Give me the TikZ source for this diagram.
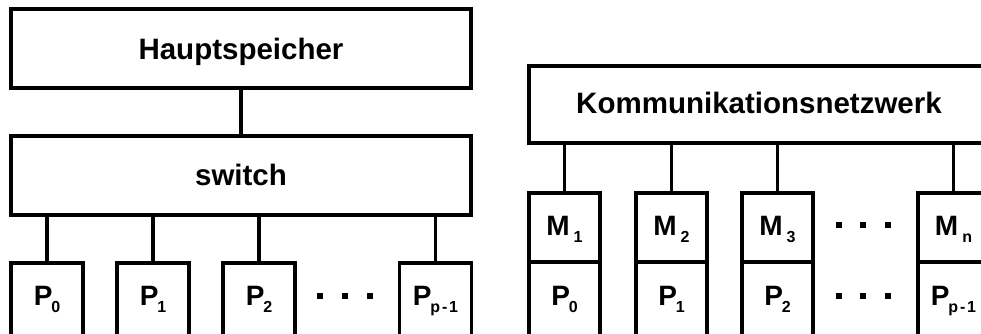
\documentclass[tikz,border=0pt]{standalone}
\usepackage{fontspec}
\setmainfont{Liberation Sans}
\newcommand{\lblsub}[2]{#1\kern-1.2pt\raisebox{-7.2pt}{\fontsize{16}{16}\selectfont #2}}
\newcommand{\lblsubM}[2]{#1\kern4pt\raisebox{-7.2pt}{\fontsize{16}{16}\selectfont #2}}
\newcommand{\pmone}{p\kern1.8pt-\kern1.8pt1}
\begin{document}
\begin{tikzpicture}[x=1pt,y=-1pt,
  box/.style={draw, line width=3.2pt, inner sep=0pt, outer sep=0pt},
  big/.style={anchor=base, inner sep=0pt, font=\fontsize{29.5}{30}\selectfont\bfseries},
  small/.style={anchor=base, inner sep=0pt, font=\fontsize{28}{28}\selectfont\bfseries},
  conn/.style={line width=3.2pt},
  dotsq/.style={fill=black, inner sep=0pt, minimum size=6.5pt}]
\useasboundingbox (0,0) rectangle (981,333);
\clip (0,0) rectangle (981,333);
% ---------- left ----------
\node[box, minimum width=460pt, minimum height=79pt] (hs) at (241,48.5) {};
\node[big] (hst) at (241,59.3) {Hauptspeicher};
\node[box, minimum width=460pt, minimum height=79pt] (sw) at (241,175.5) {};
\node[big] (swt) at (241,185) {switch};
\draw[conn] (hs.south) -- (sw.north);
\foreach \n/\x/\s in {p0/47/0, p1/153/1, p2/259/2, pp/435.5/\pmone}{
  \node[box, minimum width=72pt, minimum height=82pt] (L\n) at (\x,304) {};
  \node[small] (L\n t) at (\x,305) {\lblsub{P}{\s}};
  \draw[conn] (L\n.north) -- (L\n.north |- sw.south);
}
\node[dotsq] (ld1) at (320,296) {};
\node[dotsq] (ld2) at (345,296) {};
\node[dotsq] (ld3) at (370,296) {};
% ---------- right ----------
\node[box, minimum width=480pt, minimum height=77pt] (kn) at (769,104.5) {};
\node[big] (knt) at (759,113.3) {Kommunikationsnetzwerk};
\foreach \n/\x/\m/\s in {a/564.5/1/0, b/671.5/2/1, c/777.5/3/2, d/953.5/n/\pmone}{
  \node[box, minimum width=71pt, minimum height=69pt] (M\n) at (\x,227.5) {};
  \node[box, minimum width=71pt, minimum height=83pt] (P\n) at (\x,303.5) {};
  \node[small] (M\n t) at (\x,235) {\lblsubM{M}{\m}};
  \node[small] (P\n t) at (\x,305.5) {\lblsub{P}{\s}};
  \draw[conn] (M\n.north) -- (M\n.north |- kn.south);
}
\node[dotsq] (rm1) at (839,225) {};
\node[dotsq] (rm2) at (863,225) {};
\node[dotsq] (rm3) at (888,225) {};
\node[dotsq] (rp1) at (839,296) {};
\node[dotsq] (rp2) at (863,296) {};
\node[dotsq] (rp3) at (888,296) {};
\end{tikzpicture}
\end{document}
